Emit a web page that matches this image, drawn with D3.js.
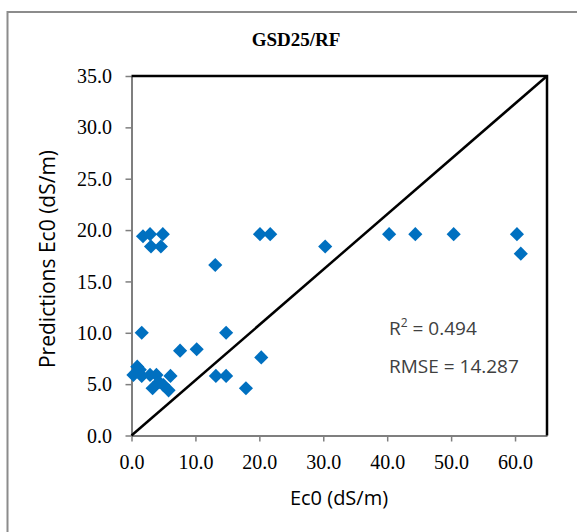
<!DOCTYPE html>
<html><head><meta charset="utf-8">
<script src="https://cdn.jsdelivr.net/npm/d3@7"></script>
<style>body{margin:0;background:#fff}</style>
</head><body>
<svg id="c" width="577" height="532"></svg>
<script>
const title = "GSD25/RF";
const xTicks = [0,10,20,30,40,50,60];
const yTicks = [0,5,10,15,20,25,30,35];
const measured = [1.8,2.9,4.9,3.05,4.6,20.1,21.7,30.3,40.3,44.4,50.4,60.3,60.9,13.1,1.6,14.8,7.6,10.2,20.3,0.9,0.3,1.6,2.9,3.9,6.1,13.2,14.8,17.9,3.3,5.0,5.8,4.3,1.3];
const predicted = [19.4,19.6,19.6,18.4,18.4,19.6,19.6,18.4,19.6,19.6,19.6,19.6,17.7,16.6,10.0,10.0,8.26,8.4,7.6,6.7,5.9,5.8,5.9,5.9,5.8,5.8,5.8,4.6,4.6,4.9,4.4,5.2,6.4];
const refLineX = [0,65];
const refLineY = [0,35];
const stats = ["0.494","14.287"];

const serif = "'Liberation Serif', 'Times New Roman', serif";
const sans = "'Open Sans', 'DejaVu Sans', sans-serif";

const svg = d3.select("#c");
const x = d3.scaleLinear().domain([0,65]).range([131.5,547]);
const y = d3.scaleLinear().domain([0,35]).range([435.5,76]);

// outer border (top & left)
svg.append("path").attr("d","M7.5,532 L7.5,12 L577,12").attr("fill","none").attr("stroke","#8c8c8c").attr("stroke-width",2);

svg.append("text").attr("x",296).attr("y",46).attr("text-anchor","middle")
  .style("font-family",serif).style("font-weight","bold").style("font-size","19px").text(title);

// axes
const gx = svg.append("g").attr("transform","translate(0,435.5)")
  .call(d3.axisBottom(x).tickValues(xTicks).tickFormat(d3.format(".1f")).tickSize(6).tickSizeOuter(0));
const gy = svg.append("g").attr("transform","translate(131.5,0)")
  .call(d3.axisLeft(y).tickValues(yTicks).tickFormat(d3.format(".1f")).tickSize(6).tickSizeOuter(0));
[gx,gy].forEach(g=>{
  g.attr("font-family",null).attr("font-size",null);
  g.select(".domain").attr("stroke","#7f7f7f").attr("stroke-width",2);
  g.selectAll(".tick line").attr("stroke","#7f7f7f").attr("stroke-width",1.5);
  g.selectAll(".tick text").style("font-family",serif).style("font-size","20px").attr("fill","#000");
});
gx.selectAll(".tick text").attr("y",19).attr("dy","0.71em");
gy.selectAll(".tick text").attr("x",-19.5).attr("dy","0.33em");

// top and right border of plot
svg.append("path").attr("d",`M${x(0)},${y(35)} L${x(65)},${y(35)} L${x(65)},${y(0)}`)
  .attr("fill","none").attr("stroke","#000").attr("stroke-width",2.5);

// reference line
svg.append("line").attr("x1",x(refLineX[0])).attr("y1",y(refLineY[0])).attr("x2",x(refLineX[1])).attr("y2",y(refLineY[1]))
  .attr("stroke","#000").attr("stroke-width",2.5);

// points
const sym = d3.symbol().type(d3.symbolSquare).size(100);
svg.append("g").selectAll("path").data(measured.map((m,i)=>[m,predicted[i]])).join("path")
  .attr("d",sym).attr("transform",d=>`translate(${x(d[0])},${y(d[1])}) rotate(45)`).attr("fill","#0070C0");

// annotations
const ann = svg.append("g").style("font-family",sans).style("font-size","19px").attr("fill","#404040");
const t1 = ann.append("text").attr("x",389).attr("y",335);
t1.append("tspan").text("R");
t1.append("tspan").style("font-size","12px").attr("dy",-8).text("2");
t1.append("tspan").attr("dy",8).text(" = " + stats[0]);
ann.append("text").attr("x",389).attr("y",373).text("RMSE = " + stats[1]);

// axis titles
svg.append("text").attr("x",339).attr("y",505).attr("text-anchor","middle")
  .style("font-family",sans).style("font-size","20px").attr("fill","#000").text("Ec0 (dS/m)");
svg.append("text").attr("transform","translate(55,259) rotate(-90)").attr("text-anchor","middle")
  .style("font-family",sans).style("font-size","21px").attr("fill","#000").text("Predictions Ec0 (dS/m)");
</script>
</body></html>
